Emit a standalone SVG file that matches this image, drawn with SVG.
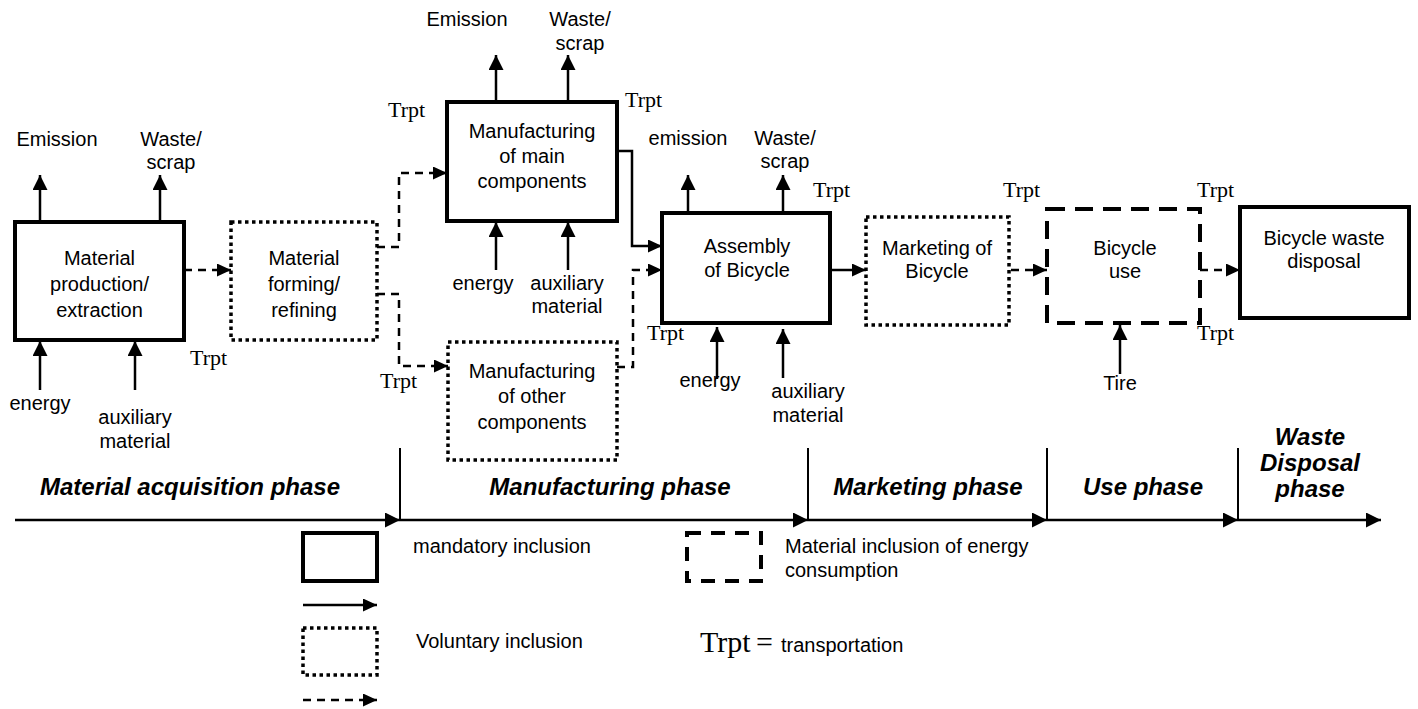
<svg xmlns="http://www.w3.org/2000/svg" width="1418" height="709" viewBox="0 0 1418 709">
<defs>
<marker id="ah" markerUnits="userSpaceOnUse" markerWidth="15" markerHeight="15" refX="15" refY="7.5" orient="auto" viewBox="0 0 15 15">
<path d="M0,0 L15,7.5 L0,15 z" fill="#000"/>
</marker>
<marker id="ahs" markerUnits="userSpaceOnUse" markerWidth="14" markerHeight="13" refX="14" refY="6.5" orient="auto" viewBox="0 0 14 13">
<path d="M0,0 L14,6.5 L0,13 z" fill="#000"/>
</marker>
<style>
.t{font-family:"Liberation Sans",Arial,sans-serif;font-size:20px;fill:#000}
.tm{text-anchor:middle}
.tr{font-family:"Liberation Serif","Times New Roman",serif;font-size:22px;fill:#000}
.ph{font-family:"Liberation Sans",Arial,sans-serif;font-size:24px;font-weight:bold;font-style:italic;text-anchor:middle;fill:#000}
.solid{fill:#fff;stroke:#000;stroke-width:4}
.dot{fill:#fff;stroke:#000;stroke-width:3.5;stroke-dasharray:3.5 3.5}
.dbox{fill:#fff;stroke:#000;stroke-width:4;stroke-dasharray:18 10}
.ln{fill:none;stroke:#000;stroke-width:2.5;marker-end:url(#ah)}
.dl{fill:none;stroke:#000;stroke-width:2.5;stroke-dasharray:8 6;marker-end:url(#ahs)}
.sl{fill:none;stroke:#000;stroke-width:2.5;marker-end:url(#ahs)}
.ax{fill:none;stroke:#000;stroke-width:2.5;marker-end:url(#ah)}
.dv{stroke:#000;stroke-width:2}
</style>
</defs>

<g id="connectors">
<line class="ln" x1="40" y1="222" x2="40" y2="175"/>
<line class="ln" x1="160" y1="222" x2="160" y2="175"/>
<line class="ln" x1="40" y1="390" x2="40" y2="341"/>
<line class="ln" x1="135" y1="390" x2="135" y2="341"/>
<path class="dl" d="M184,270 H231"/>
<path class="dl" d="M377,247 H399 V173 H447"/>
<path class="dl" d="M377,294 H399 V366 H448"/>
<line class="ln" x1="496" y1="102" x2="496" y2="55"/>
<line class="ln" x1="568" y1="102" x2="568" y2="55"/>
<line class="ln" x1="496" y1="270" x2="496" y2="222"/>
<line class="ln" x1="568" y1="270" x2="568" y2="222"/>
<path class="sl" d="M617,151 H632 V246 H662"/>
<path class="dl" d="M617,367 H633 V270 H662"/>
<line class="ln" x1="688" y1="213" x2="688" y2="175"/>
<line class="ln" x1="783" y1="213" x2="783" y2="175"/>
<line class="ln" x1="717" y1="379" x2="717" y2="327"/>
<line class="ln" x1="783" y1="378" x2="783" y2="329"/>
<path class="sl" d="M830,270 H866"/>
<path class="dl" d="M1011,270 H1047"/>
<path class="dl" d="M1200,270 H1240"/>
<line class="ln" x1="1120" y1="374" x2="1120" y2="325"/>
<path class="ax" d="M15,520 H400"/>
<path class="ax" d="M400,520 H808"/>
<path class="ax" d="M808,520 H1047"/>
<path class="ax" d="M1047,520 H1238"/>
<path class="ax" d="M1238,520 H1381"/>
<line class="dv" x1="400" y1="448" x2="400" y2="520"/>
<line class="dv" x1="808" y1="448" x2="808" y2="520"/>
<line class="dv" x1="1047" y1="448" x2="1047" y2="520"/>
<line class="dv" x1="1238" y1="448" x2="1238" y2="520"/>
</g>

<g id="material-production">
<rect class="solid" x="15" y="222" width="169" height="118"/>
<text class="t tm" x="99.5" y="265">Material</text>
<text class="t tm" x="99.5" y="291">production/</text>
<text class="t tm" x="99.5" y="317">extraction</text>
</g>
<g id="material-forming">
<rect class="dot" x="231" y="222" width="146" height="118"/>
<text class="t tm" x="304" y="265">Material</text>
<text class="t tm" x="304" y="291">forming/</text>
<text class="t tm" x="304" y="317">refining</text>
</g>
<g id="main-components">
<rect class="solid" x="447" y="102" width="170" height="119"/>
<text class="t tm" x="532" y="138">Manufacturing</text>
<text class="t tm" x="532" y="163">of main</text>
<text class="t tm" x="532" y="188">components</text>
</g>
<g id="other-components">
<rect class="dot" x="448" y="342" width="169" height="118"/>
<text class="t tm" x="532" y="378">Manufacturing</text>
<text class="t tm" x="532" y="403">of other</text>
<text class="t tm" x="532" y="429">components</text>
</g>
<g id="assembly">
<rect class="solid" x="662" y="213" width="168" height="110"/>
<text class="t tm" x="747" y="253">Assembly</text>
<text class="t tm" x="747" y="277">of Bicycle</text>
</g>
<g id="marketing">
<rect class="dot" x="866" y="217" width="143" height="108"/>
<text class="t tm" x="937" y="255">Marketing of</text>
<text class="t tm" x="937" y="278">Bicycle</text>
</g>
<g id="bicycle-use">
<rect class="dbox" x="1047" y="209" width="153" height="114"/>
<text class="t tm" x="1125" y="255">Bicycle</text>
<text class="t tm" x="1125" y="278">use</text>
</g>
<g id="waste-disposal">
<rect class="solid" x="1240" y="207" width="169" height="111"/>
<text class="t tm" x="1324" y="245">Bicycle waste</text>
<text class="t tm" x="1324" y="268">disposal</text>
</g>

<g id="flow-labels">
<text class="t tm" x="57" y="146">Emission</text>
<text class="t tm" x="171" y="146">Waste/</text>
<text class="t tm" x="171" y="169">scrap</text>
<text class="t tm" x="40" y="410">energy</text>
<text class="t tm" x="135" y="424">auxiliary</text>
<text class="t tm" x="135" y="448">material</text>
<text class="tr" x="190" y="365">Trpt</text>
<text class="tr" x="380" y="388">Trpt</text>

<text class="t tm" x="467" y="26">Emission</text>
<text class="t tm" x="580" y="26">Waste/</text>
<text class="t tm" x="580" y="50">scrap</text>
<text class="t tm" x="483" y="290">energy</text>
<text class="t tm" x="567" y="290">auxiliary</text>
<text class="t tm" x="567" y="313">material</text>
<text class="tr" x="388" y="117">Trpt</text>
<text class="tr" x="625" y="107">Trpt</text>

<text class="t tm" x="688" y="145">emission</text>
<text class="t tm" x="785" y="145">Waste/</text>
<text class="t tm" x="785" y="168">scrap</text>
<text class="t tm" x="710" y="387">energy</text>
<text class="t tm" x="808" y="398">auxiliary</text>
<text class="t tm" x="808" y="422">material</text>
<text class="tr" x="813" y="197">Trpt</text>
<text class="tr" x="647" y="340">Trpt</text>

<text class="tr" x="1003" y="197">Trpt</text>
<text class="tr" x="1197" y="197">Trpt</text>
<text class="tr" x="1197" y="340">Trpt</text>
<text class="t tm" x="1120" y="390">Tire</text>
</g>

<g id="phases">
<text class="ph" x="190" y="495">Material acquisition phase</text>
<text class="ph" x="610" y="495">Manufacturing phase</text>
<text class="ph" x="928" y="495">Marketing phase</text>
<text class="ph" x="1143" y="495">Use phase</text>
<text class="ph" x="1310" y="445">Waste</text>
<text class="ph" x="1310" y="471">Disposal</text>
<text class="ph" x="1310" y="497">phase</text>
</g>

<g id="legend">
<rect class="solid" x="303" y="533" width="74" height="48"/>
<path class="sl" d="M303,605 H377"/>
<rect class="dot" x="303" y="628" width="74" height="47"/>
<path class="dl" d="M303,700 H377"/>
<text class="t" x="413" y="553">mandatory inclusion</text>
<text class="t" x="416" y="648">Voluntary inclusion</text>
<rect class="dbox" x="687" y="533" width="74" height="48" style="stroke-dasharray:14 10"/>
<text class="t" x="785" y="553">Material inclusion of energy</text>
<text class="t" x="785" y="577">consumption</text>
<text x="700" y="652" style="font-family:'Liberation Serif','Times New Roman',serif;font-size:30px">Trpt</text>
<text x="756" y="652" style="font-family:'Liberation Serif','Times New Roman',serif;font-size:30px">=</text>
<text class="t" x="781" y="652">transportation</text>
</g>
</svg>
